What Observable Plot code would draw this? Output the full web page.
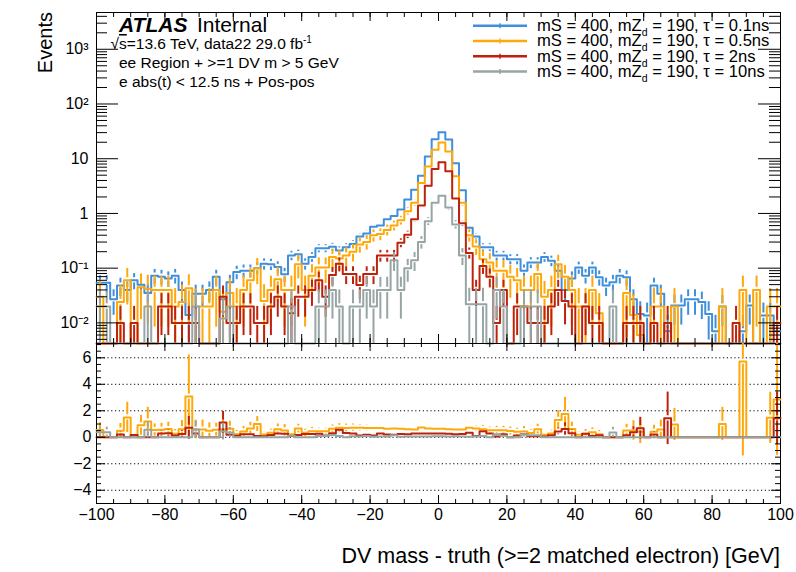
<!DOCTYPE html>
<html>
<head>
<meta charset="utf-8">
<script src="https://cdn.jsdelivr.net/npm/d3@7"></script>
<script src="https://cdn.jsdelivr.net/npm/@observablehq/plot@0.6"></script>
<style>
  html, body { margin: 0; padding: 0; background: #fff; }
  #chart { position: relative; width: 796px; height: 572px; overflow: hidden; }
  #chart svg { position: absolute; left: 0; overflow: visible; }
</style>
</head>
<body>
<div id="chart"></div>
<script>
// ---------------- DATA ----------------
// lower edges of the 2 GeV bins from -100 to 100
const binLow = d3.range(-100, 100, 2);
const binWidth = 2;

const seriesNames = ["mS = 400, mZd = 190, τ = 0.1ns", "mS = 400, mZd = 190, τ = 0.5ns", "mS = 400, mZd = 190, τ = 2ns", "mS = 400, mZd = 190, τ = 10ns"];
const tauLabels = ["0.1ns", "0.5ns", "2ns", "10ns"];
const colors = ["#3f8fdc", "#ffa80a", "#bd230c", "#98a5a5"];

// Events per bin, bins -100..100 step 2
const blue = [
  0.054, 0.054, 0.027, 0.048, 0.04, 0.06, 0.05, 0.035, 0.073, 0.07,
  0.065, 0.073, 0.04, 0.014, 0.034, 0.034, 0.04, 0.07, 0.027, 0.055,
  0.085, 0.09, 0.09, 0.1, 0.12, 0.118, 0.105, 0.077, 0.17, 0.18,
  0.12, 0.16, 0.23, 0.23, 0.245, 0.21, 0.24, 0.275, 0.38, 0.43,
  0.57, 0.6, 0.78, 0.9, 1.18, 1.8, 2.7, 4.9, 11, 22.8,
  30.5, 22.5, 8.3, 2.65, 0.55, 0.38, 0.24, 0.24, 0.17, 0.17,
  0.146, 0.146, 0.09, 0.127, 0.127, 0.16, 0.136, 0.09, 0.04, 0.065,
  0.103, 0.073, 0.103, 0.068, 0.048, 0.055, 0.073, 0.068, 0.027, 0.0146,
  0.0136, 0.048, 0.034, 0.007, 0.0207, 0.0207, 0.027, 0.027, 0.024, 0.0146,
  0.007, 0.02, 0, 0, 0.007, 0.0207, 0, 0.0136, 0.0136, 0.007
];
const orange = [
  0.03, 0, 0, 0.024, 0.06, 0, 0.045, 0.042, 0.04, 0.04,
  0.04, 0.02, 0.024, 0.043, 0.02, 0.02, 0.02, 0.04, 0.016, 0.035,
  0.02, 0.04, 0.06, 0.1, 0.025, 0.04, 0.063, 0.04, 0.04, 0.118,
  0.04, 0.073, 0.103, 0.103, 0.16, 0.15, 0.17, 0.2, 0.27, 0.3,
  0.4, 0.42, 0.5, 0.6, 0.75, 1.1, 1.56, 3.6, 7.2, 14.6,
  19.8, 13.6, 4.8, 1.56, 0.4, 0.25, 0.146, 0.127, 0.09, 0.09,
  0.07, 0.06, 0.04, 0.04, 0.078, 0.03, 0.04, 0.118, 0.07, 0.04,
  0.02, 0.02, 0.04, 0.015, 0, 0, 0, 0.035, 0.014, 0.006,
  0, 0.02, 0.02, 0, 0.02, 0, 0, 0, 0, 0,
  0, 0.02, 0, 0, 0.04, 0, 0.04, 0, 0.02, 0.02
];
const red = [
  0, 0, 0, 0.01, 0, 0.01, 0, 0, 0, 0.02,
  0.02, 0.01, 0.01, 0.01, 0.01, 0, 0, 0, 0.03, 0.01,
  0.01, 0.02, 0.02, 0.01, 0.01, 0.02, 0.03, 0.02, 0.015, 0.03,
  0.03, 0.04, 0.06, 0.03, 0.075, 0.12, 0.078, 0.078, 0.049, 0.078,
  0.078, 0.17, 0.17, 0.17, 0.29, 0.41, 0.78, 1.4, 3.2, 6.5,
  8.6, 5.9, 1.87, 0.66, 0.19, 0.04, 0.11, 0.07, 0.01, 0.04,
  0, 0.02, 0.02, 0.01, 0.01, 0.01, 0.02, 0.04, 0.025, 0.02,
  0, 0.02, 0.01, 0.01, 0, 0, 0, 0.01, 0.01, 0.01,
  0, 0.01, 0, 0.01, 0, 0, 0, 0, 0, 0,
  0, 0, 0, 0.01, 0, 0, 0, 0, 0, 0.01
];
const gray = [
  0.02, 0.02, 0, 0, 0, 0, 0, 0.02, 0, 0,
  0, 0, 0, 0, 0.02, 0, 0, 0, 0.012, 0.02,
  0, 0, 0, 0, 0, 0, 0, 0, 0.02, 0,
  0, 0, 0.02, 0.02, 0.04, 0.02, 0, 0.02, 0.02, 0.04,
  0.02, 0.04, 0.04, 0.14, 0.04, 0.1, 0.14, 0.3, 0.72, 1.56,
  2.1, 1.29, 0.63, 0.17, 0.022, 0.022, 0.022, 0, 0.04, 0.02,
  0, 0, 0.02, 0.02, 0.02, 0, 0, 0, 0, 0,
  0, 0, 0, 0, 0, 0.02, 0, 0, 0, 0,
  0, 0, 0, 0, 0, 0, 0, 0, 0, 0,
  0, 0, 0, 0, 0, 0, 0, 0, 0, 0
];
// typical per-event weights of each sample (sets the size of the error bars)
const eventWeights = [0.0065, 0.025, 0.01, 0.02];

const xMajorTicks = d3.range(-100, 101, 20);
const xMinorTicks = d3.range(-100, 101, 5);
const yDecadeTicks = [0.01, 0.1, 1, 10, 100, 1000];
const ratioMajorTicks = [-4, -2, 0, 2, 4, 6];
const ratioMinorTicks = d3.range(-5, 7.01, 0.5);

// ---------------- LAYOUT ----------------
const FONT = "'Liberation Sans', Arial, Helvetica, sans-serif";
const W = 796, mL = 96, mR = 16;
const FW = W - mL - mR;                 // frame width
const topH = 343, topMT = 12;            // top pad frame: 12..343
const topFH = topH - topMT;
const yMin = 0.0042, yMax = 4700;
const pxPerDecade = topFH / Math.log10(yMax / yMin);
const botTop = 343, botH = 229, botFH = 160; // bottom pad frame: 343..503
const rMin = -5, rMax = 7.08;
const pxPerUnit = botFH / (rMax - rMin);
const GAP = 2.6; // marker gap around error bars (px)

const series = [blue, orange, red, gray];

function stepPoints(vals, floor) {
  const pts = [];
  vals.forEach((v, i) => {
    const y = Math.max(v, floor);
    pts.push({x: binLow[i], y}, {x: binLow[i] + binWidth, y});
  });
  return pts;
}
function errTop(vals, w) {
  const f = Math.pow(10, GAP / pxPerDecade);
  const segs = [];
  vals.forEach((v, i) => {
    if (v <= 0) return;
    const e = Math.sqrt(w * v), xc = binLow[i] + binWidth / 2;
    const hi = Math.min(v + e, yMax), lo = Math.max(v - e, yMin);
    if (hi > v * f) segs.push({x: xc, y1: v * f, y2: hi});
    if (lo < v / f) segs.push({x: xc, y1: lo, y2: v / f});
  });
  return segs;
}
function ratioOf(vals, w) {
  const wb = eventWeights[0];
  return vals.map((v, i) => {
    const b = blue[i];
    if (b <= 0 || v <= 0) return {r: 0, e: 0};
    const r = v / b;
    return {r, e: r * Math.sqrt(w / v + wb / b)};
  });
}
function errRatio(rs) {
  const g = GAP / pxPerUnit;
  const segs = [];
  rs.forEach((d, i) => {
    if (d.e <= 0) return;
    const xc = binLow[i] + binWidth / 2;
    const hi = Math.min(d.r + d.e, rMax), lo = Math.max(d.r - d.e, rMin);
    if (hi > d.r + g) segs.push({x: xc, y1: d.r + g, y2: hi});
    if (lo < d.r - g) segs.push({x: xc, y1: lo, y2: d.r - g});
  });
  return segs;
}

const minorLog = [];
for (let k = -3; k <= 3; k++) for (let m = 2; m <= 9; m++) {
  const v = m * Math.pow(10, k);
  if (v > yMin && v < yMax) minorLog.push(v);
}
const supMap = {"-2": "10\u207B\u00B2", "-1": "10\u207B\u00B9", "0": "1", "1": "10", "2": "10\u00B2", "3": "10\u00B3"};
const fmtLog = d => supMap[String(Math.round(Math.log10(d)))];
const fmtSigned = d => d < 0 ? "\u2212" + (-d) : String(d);

// ---------------- TOP PAD ----------------
const topMarks = [
  Plot.frame({stroke: "black", strokeWidth: 1}),
];
series.forEach((vals, s) => {
  topMarks.push(Plot.line(stepPoints(vals, yMin), {x: "x", y: "y", stroke: colors[s], strokeWidth: 2, curve: "linear"}));
  topMarks.push(Plot.ruleX(errTop(vals, eventWeights[s]), {x: "x", y1: "y1", y2: "y2", stroke: colors[s], strokeWidth: 2}));
});
// inward ticks on all four sides
topMarks.push(
  Plot.ruleX(xMajorTicks, {x: d => d, insetTop: topFH - 9, stroke: "black"}),
  Plot.ruleX(xMinorTicks, {x: d => d, insetTop: topFH - 5, stroke: "black"}),
  Plot.ruleX(xMajorTicks, {x: d => d, insetBottom: topFH - 9, stroke: "black"}),
  Plot.ruleX(xMinorTicks, {x: d => d, insetBottom: topFH - 5, stroke: "black"}),
  Plot.ruleY(yDecadeTicks, {y: d => d, insetRight: FW - 22, stroke: "black"}),
  Plot.ruleY(minorLog, {y: d => d, insetRight: FW - 11, stroke: "black"}),
  Plot.ruleY(yDecadeTicks, {y: d => d, insetLeft: FW - 22, stroke: "black"}),
  Plot.ruleY(minorLog, {y: d => d, insetLeft: FW - 11, stroke: "black"}),
  Plot.axisY(yDecadeTicks, {anchor: "left", tickSize: 0, tickPadding: 8, tickFormat: fmtLog, label: null})
);

const topPlot = Plot.plot({
  width: W, height: topH,
  marginLeft: mL, marginRight: mR, marginTop: topMT, marginBottom: 0,
  x: {domain: [-100, 100], axis: null},
  y: {type: "log", domain: [yMin, yMax], axis: null},
  style: {fontFamily: FONT, fontSize: "16px", color: "black", background: "transparent", overflow: "visible"},
  marks: topMarks
});
topPlot.style.top = "0px";

// ---------------- RATIO PAD ----------------
const botMarks = [
  Plot.ruleY(ratioMajorTicks, {y: d => d, stroke: "black", strokeWidth: 1, strokeDasharray: "1.2,2.6"}),
  Plot.frame({stroke: "black", strokeWidth: 1})
];
[1, 2, 3].forEach(s => {
  const rs = ratioOf(series[s], eventWeights[s]);
  const pts = [];
  rs.forEach((d, i) => pts.push({x: binLow[i], y: d.r}, {x: binLow[i] + binWidth, y: d.r}));
  botMarks.push(Plot.line(pts, {x: "x", y: "y", stroke: colors[s], strokeWidth: 2}));
  botMarks.push(Plot.ruleX(errRatio(rs), {x: "x", y1: "y1", y2: "y2", stroke: colors[s], strokeWidth: 2}));
});
botMarks.push(
  Plot.ruleX(xMajorTicks, {x: d => d, insetTop: botFH - 8, stroke: "black"}),
  Plot.ruleX(xMinorTicks, {x: d => d, insetTop: botFH - 4, stroke: "black"}),
  Plot.ruleX(xMajorTicks, {x: d => d, insetBottom: botFH - 8, stroke: "black"}),
  Plot.ruleX(xMinorTicks, {x: d => d, insetBottom: botFH - 4, stroke: "black"}),
  Plot.ruleY(ratioMajorTicks, {y: d => d, insetRight: FW - 9, stroke: "black"}),
  Plot.ruleY(ratioMinorTicks, {y: d => d, insetRight: FW - 5, stroke: "black"}),
  Plot.ruleY(ratioMajorTicks, {y: d => d, insetLeft: FW - 9, stroke: "black"}),
  Plot.ruleY(ratioMinorTicks, {y: d => d, insetLeft: FW - 5, stroke: "black"}),
  Plot.axisY(ratioMajorTicks, {anchor: "left", tickSize: 0, tickPadding: 5, tickFormat: fmtSigned, label: null}),
  Plot.axisX(xMajorTicks, {anchor: "bottom", tickSize: 0, tickPadding: 5, tickFormat: fmtSigned, label: null})
);

const botPlot = Plot.plot({
  width: W, height: botH,
  marginLeft: mL, marginRight: mR, marginTop: 0, marginBottom: botH - botFH,
  x: {domain: [-100, 100], axis: null},
  y: {domain: [rMin, rMax], axis: null},
  style: {fontFamily: FONT, fontSize: "16px", color: "black", background: "transparent", overflow: "visible"},
  marks: botMarks
});
botPlot.style.top = botTop + "px";

const chart = document.getElementById("chart");
chart.appendChild(topPlot);
chart.appendChild(botPlot);

// ---------------- TEXT & LEGEND ----------------
const st = d3.select(topPlot).append("g").attr("font-family", FONT).attr("fill", "black")
  .attr("text-anchor", "start");
st.append("text").attr("x", 119).attr("y", 31.5).attr("font-size", 21)
  .attr("font-weight", "bold").attr("font-style", "italic").text("ATLAS");
st.append("text").attr("x", 197).attr("y", 31.5).attr("font-size", 21).text("Internal");
const t2 = st.append("text").attr("x", 110.5).attr("y", 49).attr("font-size", 15.5);
t2.append("tspan").text("\u221A");
t2.append("tspan").attr("text-decoration", "overline").text("s");
t2.append("tspan").text("=13.6 TeV, data22 29.0 fb");
t2.append("tspan").attr("dy", -6).attr("font-size", 10).text("-1");
st.append("text").attr("x", 119).attr("y", 67.5).attr("font-size", 15.5).text("ee Region + >=1 DV m > 5 GeV");
st.append("text").attr("x", 119).attr("y", 87).attr("font-size", 15.5).text("e abs(t) < 12.5 ns + Pos-pos");
// y title
st.append("text").attr("transform", "translate(52,12) rotate(-90)")
  .attr("text-anchor", "end").attr("font-size", 20).text("Events");

// legend
tauLabels.forEach((tau, i) => {
  const yl = 25.7 + 15.3 * i;
  st.append("line").attr("x1", 473).attr("x2", 527).attr("y1", yl).attr("y2", yl)
    .attr("stroke", colors[i]).attr("stroke-width", 2.5);
  st.append("line").attr("x1", 500).attr("x2", 500).attr("y1", yl - 2.5).attr("y2", yl + 2.5)
    .attr("stroke", colors[i]).attr("stroke-width", 1.5);
  const tx = st.append("text").attr("x", 537).attr("y", yl + 5.4).attr("font-size", 16.6);
  tx.append("tspan").text("mS = 400, mZ");
  tx.append("tspan").attr("dy", 5).attr("font-size", 10.5).text("d");
  tx.append("tspan").attr("dy", -5).text(" = 190, \u03C4 = " + tau);
});

// x title
d3.select(botPlot).append("text").attr("x", 780).attr("y", 562.5 - botTop)
  .attr("text-anchor", "end").attr("font-family", FONT).attr("font-size", 21.5)
  .attr("fill", "black").text("DV mass - truth (>=2 matched electron) [GeV]");
</script>
</body>
</html>
